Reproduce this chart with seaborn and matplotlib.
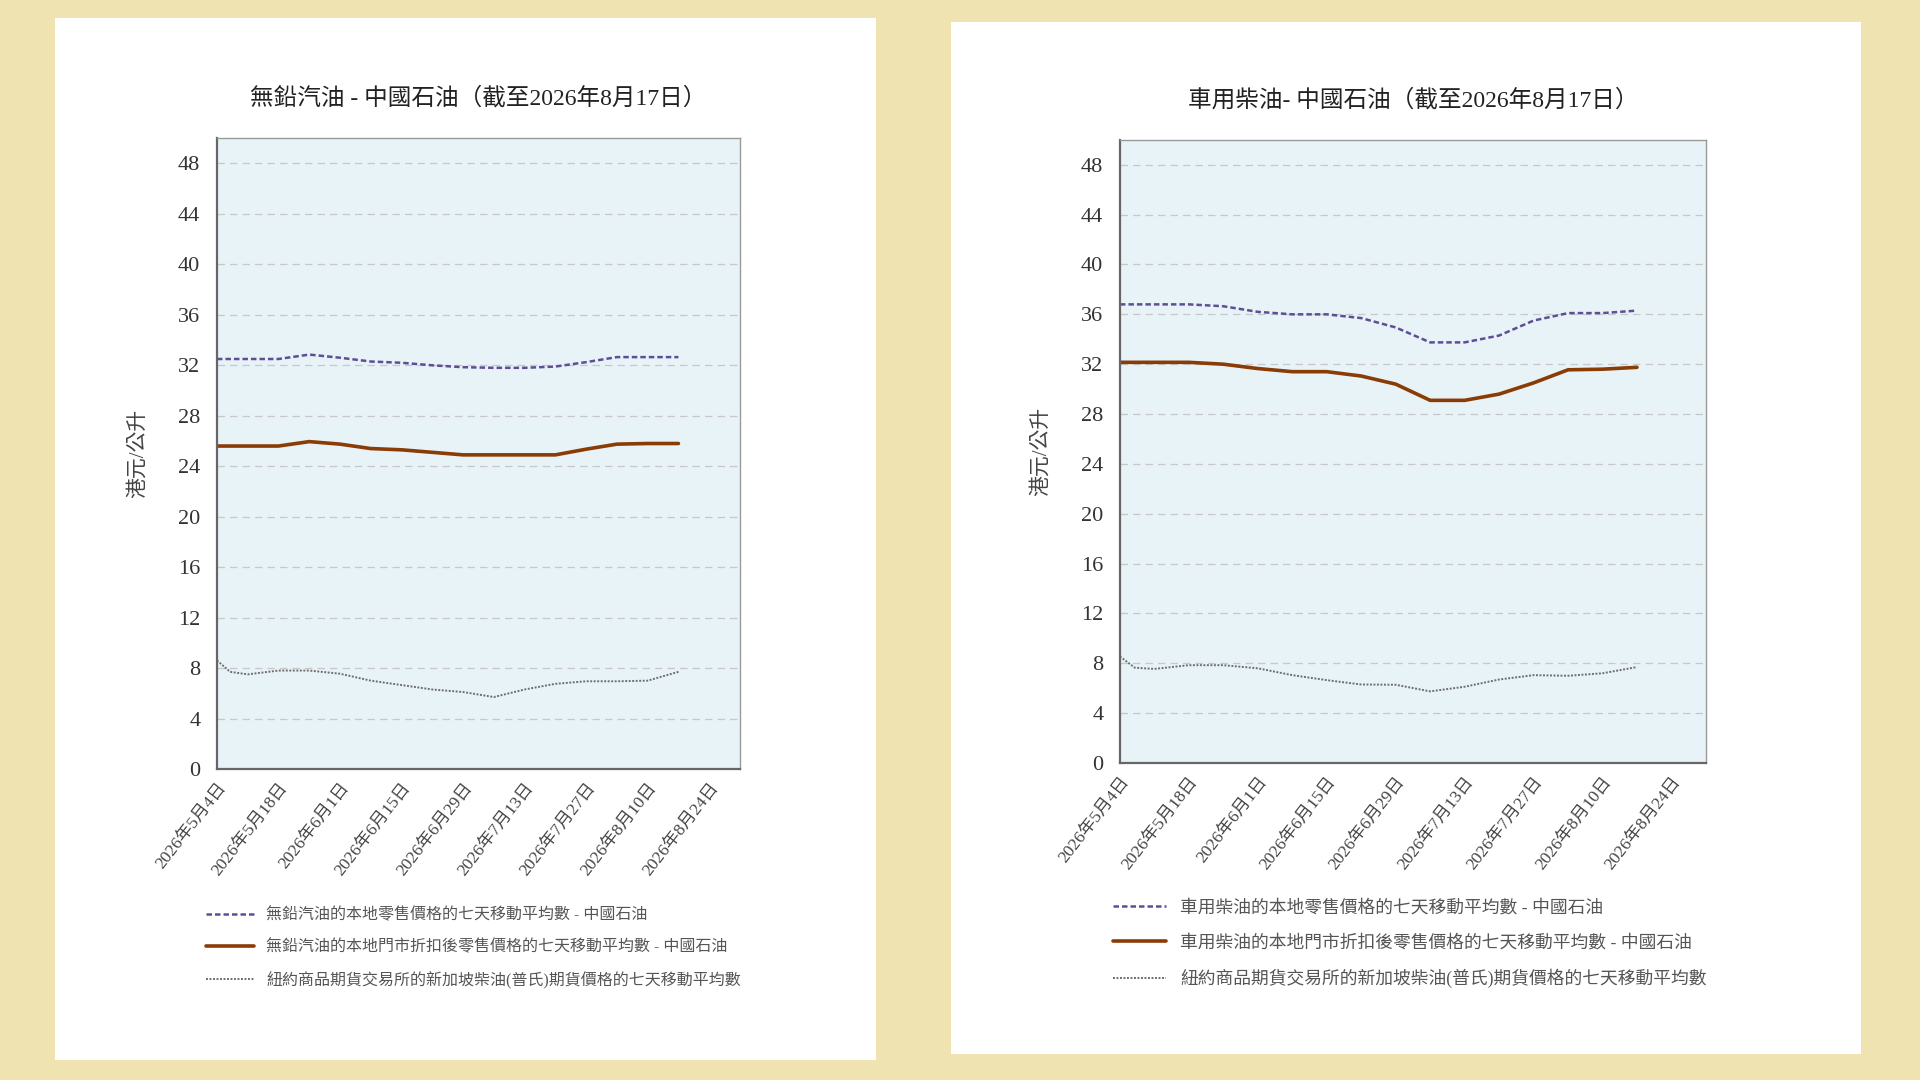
import pandas as pd
import matplotlib.pyplot as plt
from matplotlib.patches import Rectangle
import seaborn as sns

# dates shared by all series (data up to 2026-08-17)
dates = ['2026-05-04', '2026-05-07', '2026-05-11', '2026-05-18', '2026-05-25', '2026-06-01',
         '2026-06-08', '2026-06-15', '2026-06-22', '2026-06-29', '2026-07-06', '2026-07-13',
         '2026-07-20', '2026-07-27', '2026-08-03', '2026-08-10', '2026-08-17']

# unleaded petrol
petrol_retail = [32.5, 32.5, 32.5, 32.5, 32.85, 32.6, 32.3, 32.2, 32.0, 31.85, 31.8, 31.8,
                 31.9, 32.25, 32.65, 32.65, 32.65]
petrol_discount = [25.6, 25.6, 25.6, 25.6, 25.95, 25.75, 25.4, 25.3, 25.1, 24.9, 24.9, 24.9,
                   24.9, 25.35, 25.75, 25.8, 25.8]
petrol_futures = [8.6, 7.7, 7.5, 7.8, 7.8, 7.55, 7.0, 6.65, 6.3, 6.1, 5.7, 6.3,
                  6.75, 6.95, 6.95, 7.0, 7.7]

# diesel
diesel_retail = [36.8, 36.8, 36.8, 36.8, 36.65, 36.2, 36.0, 36.0, 35.7, 34.95, 33.75, 33.75,
                 34.3, 35.5, 36.1, 36.1, 36.3]
diesel_discount = [32.15, 32.15, 32.15, 32.15, 32.0, 31.65, 31.4, 31.4, 31.05, 30.4, 29.1, 29.1,
                   29.6, 30.5, 31.55, 31.6, 31.75]
diesel_futures = [8.55, 7.65, 7.55, 7.85, 7.85, 7.6, 7.05, 6.65, 6.3, 6.28, 5.75, 6.12,
                  6.7, 7.05, 7.0, 7.2, 7.7]

titles = ['無鉛汽油 - 中國石油（截至2026年8月17日）', '車用柴油- 中國石油（截至2026年8月17日）']
legend_labels = [
    ['無鉛汽油的本地零售價格的七天移動平均數 - 中國石油',
     '無鉛汽油的本地門市折扣後零售價格的七天移動平均數 - 中國石油',
     '紐約商品期貨交易所的新加坡柴油(普氏)期貨價格的七天移動平均數'],
    ['車用柴油的本地零售價格的七天移動平均數 - 中國石油',
     '車用柴油的本地門市折扣後零售價格的七天移動平均數 - 中國石油',
     '紐約商品期貨交易所的新加坡柴油(普氏)期貨價格的七天移動平均數'],
]
ylabel = '港元/公升'
tick_dates = pd.date_range('2026-05-04', '2026-08-24', freq='14D')
yticks = list(range(0, 49, 4))

sns.set_style('white')
plt.rcParams['font.family'] = ['Liberation Serif', 'Noto Sans CJK TC', 'DejaVu Sans']

fig = plt.figure(figsize=(19.2, 10.8), dpi=100)
fig.patch.set_facecolor('#EFE3B1')
fig.patches.append(Rectangle((0.0286, 0.0185), 0.4276, 0.965, transform=fig.transFigure,
                             facecolor='white', edgecolor='none', zorder=-10))
fig.patches.append(Rectangle((0.4953, 0.024), 0.474, 0.956, transform=fig.transFigure,
                             facecolor='white', edgecolor='none', zorder=-10))

axes_pos = [[0.113, 0.288, 0.2724, 0.584], [0.5833, 0.2935, 0.3052, 0.577]]
series = [[petrol_retail, petrol_discount, petrol_futures],
          [diesel_retail, diesel_discount, diesel_futures]]
styles = [dict(color='#5E4E96', linestyle=(0, (2.2, 1.2)), linewidth=1.8),
          dict(color='#8A3C06', linestyle='-', linewidth=2.6),
          dict(color='#6E6E6E', linestyle=(0, (1, 0.8)), linewidth=1.4)]
legend_xy = [(0.103, 0.167), (0.575, 0.1755)]
legend_size = [11.5, 12.8]

for i in range(2):
    ax = fig.add_axes(axes_pos[i])
    ax.set_facecolor('#E8F3F8')
    df = pd.DataFrame({'date': pd.to_datetime(dates)})
    for j in range(3):
        df['v'] = series[i][j]
        sns.lineplot(data=df, x='date', y='v', ax=ax, label=legend_labels[i][j], **styles[j])
    ax.set_xlim(pd.Timestamp('2026-05-04'), pd.Timestamp('2026-08-31'))
    ax.set_ylim(0, 50)
    ax.set_yticks(yticks)
    ax.set_xticks(tick_dates)
    ax.set_xticklabels([f'{d.year}年{d.month}月{d.day}日' for d in tick_dates],
                       rotation=52, ha='right', rotation_mode='anchor', fontsize=12.5, color='#444444')
    ax.tick_params(axis='y', labelsize=16, colors='#333333', direction='in', length=4, pad=12)
    ax.tick_params(axis='x', direction='in', length=5, color='#555555', pad=8)
    ax.grid(axis='y', color='#C8C8C8', linestyle=(0, (6, 4)), linewidth=0.9)
    for s in ['left', 'bottom']:
        ax.spines[s].set_color('#666666')
        ax.spines[s].set_linewidth(1.6)
    for s in ['top', 'right']:
        ax.spines[s].set_color('#999999')
        ax.spines[s].set_linewidth(1.0)
    ax.set_xlabel('')
    ax.set_ylabel(ylabel, fontsize=15, color='#444444', labelpad=22)
    ax.set_title(titles[i], fontsize=17, color='#222222', pad=24)
    ax.legend(loc='upper left', bbox_to_anchor=legend_xy[i], bbox_transform=fig.transFigure,
              frameon=False, fontsize=legend_size[i], handlelength=3.0, labelspacing=1.0,
              labelcolor='#555555', borderpad=0)

fig.savefig('out.png', dpi=100, facecolor=fig.get_facecolor())
